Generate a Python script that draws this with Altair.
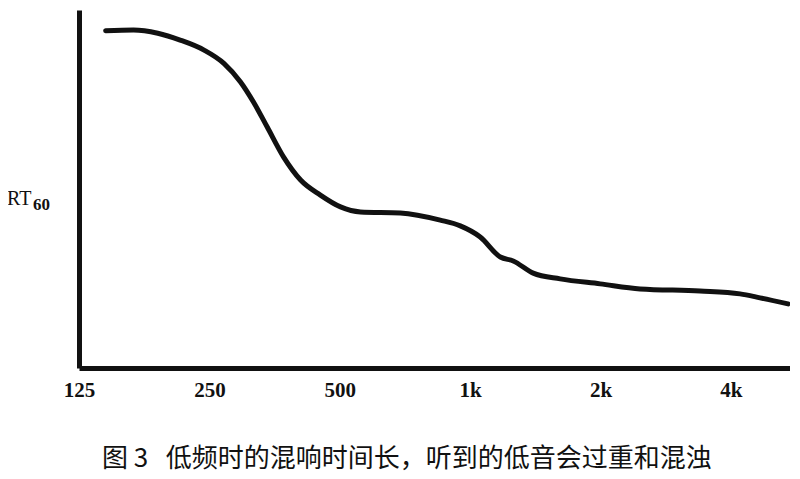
import altair as alt
import pandas as pd

# frequency (Hz) and relative RT60
freq = [144, 167, 190, 214, 243, 270, 295, 316, 340, 371, 406, 451, 502, 558, 690,
        853, 949, 1055, 1174, 1257, 1398, 1614, 1996, 2468, 3394, 4199, 4669, 5419]
rt60 = [94.2, 94.4, 93.5, 91.6, 88.8, 85.1, 79.9, 74.3, 67.3, 58.9, 52.5, 48.3, 45.0,
        43.6, 43.3, 41.3, 39.7, 36.6, 31.0, 29.9, 26.5, 24.9, 23.5, 22.1, 21.5,
        20.7, 19.6, 17.9]

tick_values = [125, 250, 500, 1000, 2000, 4000]
tick_labels = ["125", "250", "500", "1k", "2k", "4k"]
caption = "图\u00a03\u00a0\u00a0\u00a0低频时的混响时间长，听到的低音会过重和混浊"

curve = pd.DataFrame({"f": freq, "rt": rt60})
label_map = " : ".join(f"datum.value == {v} ? '{t}'" for v, t in zip(tick_values, tick_labels)) + " : ''"

line = alt.Chart(curve).mark_line(
    color="#111111", strokeWidth=5, interpolate="monotone", strokeCap="round"
).encode(
    x=alt.X(
        "f:Q",
        scale=alt.Scale(type="log", base=2, domain=[125, 5476], nice=False),
        axis=alt.Axis(
            values=tick_values, labelExpr=label_map, title=None, ticks=False, grid=False,
            domainColor="#111111", domainWidth=5, labelFont="Liberation Serif",
            labelFontWeight="bold", labelFontSize=21, labelColor="#111111",
            labelPadding=11, labelFlush=False, labelOverlap=False,
        ),
    ),
    y=alt.Y(
        "rt:Q",
        scale=alt.Scale(domain=[0, 100], nice=False),
        axis=alt.Axis(
            title=None, labels=False, ticks=False, grid=False,
            domainColor="#111111", domainWidth=5,
        ),
    ),
)

rt = alt.Chart(pd.DataFrame({"t": ["RT"]})).mark_text(
    font="Liberation Serif", fontSize=20, color="#111111", align="left", baseline="alphabetic"
).encode(x=alt.value(-72), y=alt.value(195), text="t:N")

sub = alt.Chart(pd.DataFrame({"t": ["60"]})).mark_text(
    font="Liberation Serif", fontSize=17, fontWeight="bold", color="#111111",
    align="left", baseline="alphabetic"
).encode(x=alt.value(-46), y=alt.value(200), text="t:N")

cap = alt.Chart(pd.DataFrame({"t": [caption]})).mark_text(
    font="Noto Sans CJK SC", fontSize=26, color="#111111", align="left", baseline="middle"
).encode(x=alt.value(23), y=alt.value(449), text="t:N")

chart = alt.layer(line, rt, sub, cap).properties(
    width=711,
    height=358,
    autosize=alt.AutoSizeParams(type="none"),
    padding={"left": 71, "top": 2, "right": 0, "bottom": 111},
).configure_view(stroke=None)

chart.save("out.html", embed_options={"renderer": "svg", "actions": False})
